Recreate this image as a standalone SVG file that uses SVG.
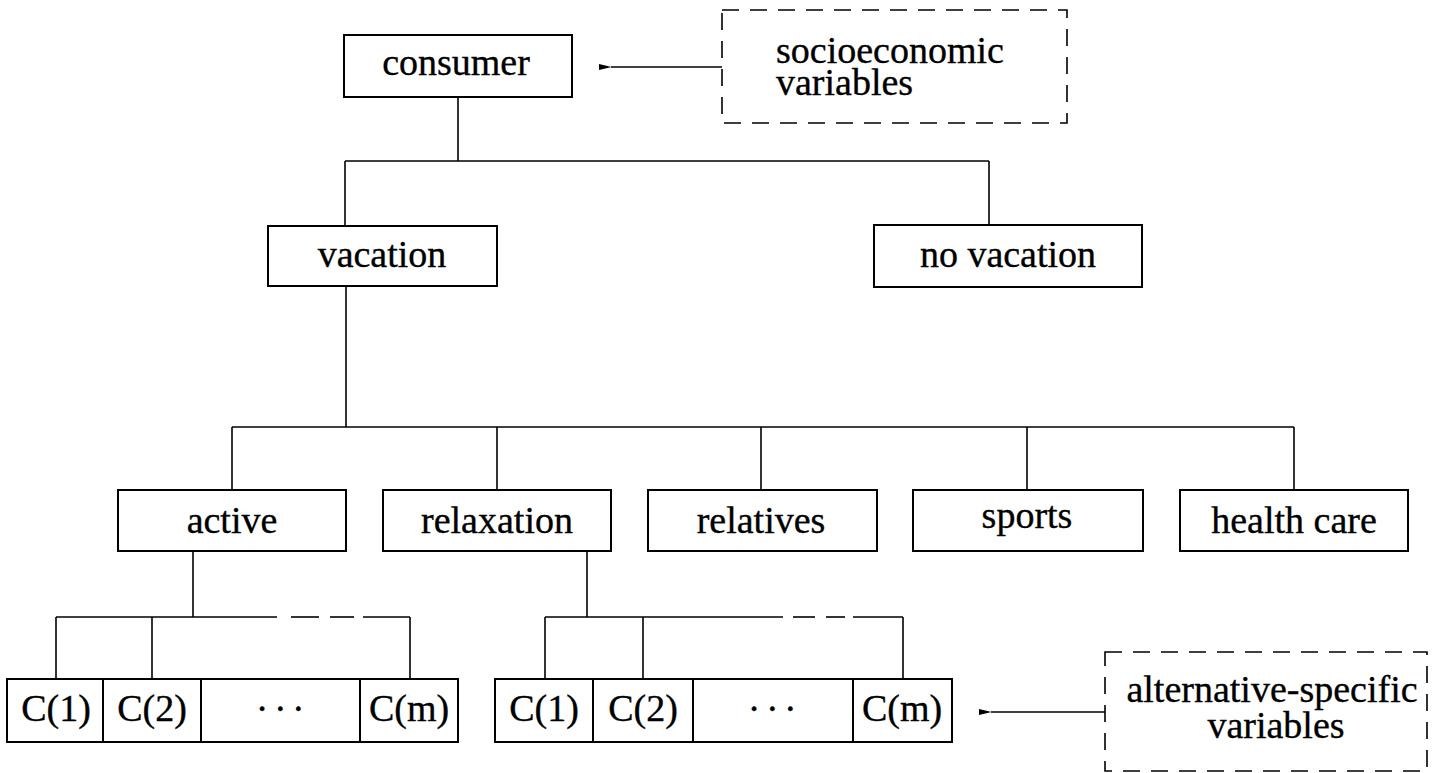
<svg xmlns="http://www.w3.org/2000/svg" width="1433" height="773" viewBox="0 0 1433 773">
<defs>
<marker id="ah" markerWidth="13" markerHeight="8" refX="0.5" refY="4" orient="auto" markerUnits="userSpaceOnUse">
<path d="M13,0.8 L0,4 L13,7.2 Z" fill="#000"/>
</marker>
</defs>
<style>
.box{fill:#fff;stroke:#000;stroke-width:2}
.dbox{fill:none;stroke:#000;stroke-width:1.6;stroke-dasharray:17 11}
.ln{fill:none;stroke:#000;stroke-width:1.6}
text{font-family:"Liberation Serif","Times New Roman",serif;font-size:38px;fill:#000;stroke:#000;stroke-width:0.35;text-anchor:middle}
.l{text-anchor:start}
</style>
<rect width="1433" height="773" fill="#fff"/>
<g id="connectors">
<line class="ln" x1="458" y1="97" x2="458" y2="161"/>
<line class="ln" x1="345" y1="161" x2="989" y2="161"/>
<line class="ln" x1="345" y1="161" x2="345" y2="226"/>
<line class="ln" x1="989" y1="161" x2="989" y2="225"/>
<line class="ln" x1="346" y1="286" x2="346" y2="427"/>
<line class="ln" x1="232" y1="427" x2="1294" y2="427"/>
<line class="ln" x1="232" y1="427" x2="232" y2="490"/>
<line class="ln" x1="497" y1="427" x2="497" y2="490"/>
<line class="ln" x1="761" y1="427" x2="761" y2="490"/>
<line class="ln" x1="1027" y1="427" x2="1027" y2="490"/>
<line class="ln" x1="1294" y1="427" x2="1294" y2="490"/>
<line class="ln" x1="193" y1="551" x2="193" y2="617"/>
<line class="ln" x1="56" y1="617" x2="277" y2="617"/>
<line class="ln" x1="291" y1="617" x2="319" y2="617"/>
<line class="ln" x1="330" y1="617" x2="354" y2="617"/>
<line class="ln" x1="363" y1="617" x2="410" y2="617"/>
<line class="ln" x1="56" y1="617" x2="56" y2="679"/>
<line class="ln" x1="152" y1="617" x2="152" y2="679"/>
<line class="ln" x1="410" y1="617" x2="410" y2="679"/>
<line class="ln" x1="587" y1="551" x2="587" y2="617"/>
<line class="ln" x1="545" y1="617" x2="783" y2="617"/>
<line class="ln" x1="793" y1="617" x2="815" y2="617"/>
<line class="ln" x1="826" y1="617" x2="845" y2="617"/>
<line class="ln" x1="853" y1="617" x2="903" y2="617"/>
<line class="ln" x1="545" y1="617" x2="545" y2="679"/>
<line class="ln" x1="643" y1="617" x2="643" y2="679"/>
<line class="ln" x1="903" y1="617" x2="903" y2="679"/>
<line class="ln" x1="722" y1="67" x2="611" y2="67" marker-end="url(#ah)"/>
<line class="ln" x1="1105" y1="712" x2="991" y2="712" marker-end="url(#ah)"/>
</g>
<g id="n-consumer"><rect class="box" x="344" y="35" width="228" height="62"/><text x="456" y="75">consumer</text></g>
<g id="n-socio"><rect class="dbox" x="722" y="10" width="345" height="113"/><text class="l" x="776" y="63">socioeconomic</text><text class="l" x="776" y="95">variables</text></g>
<g id="n-vacation"><rect class="box" x="268" y="226" width="229" height="60"/><text x="382" y="267">vacation</text></g>
<g id="n-novacation"><rect class="box" x="874" y="225" width="268" height="62"/><text x="1008" y="267">no vacation</text></g>
<g id="n-active"><rect class="box" x="118" y="490" width="228" height="61"/><text x="232" y="533">active</text></g>
<g id="n-relaxation"><rect class="box" x="383" y="490" width="228" height="61"/><text x="497" y="533">relaxation</text></g>
<g id="n-relatives"><rect class="box" x="648" y="490" width="229" height="61"/><text x="761" y="533">relatives</text></g>
<g id="n-sports"><rect class="box" x="913" y="490" width="230" height="61"/><text x="1027" y="528">sports</text></g>
<g id="n-health"><rect class="box" x="1180" y="490" width="228" height="61"/><text x="1294" y="533">health care</text></g>
<g id="n-a-c1"><rect class="box" x="7" y="679" width="96" height="63"/><text x="56" y="721">C(1)</text></g>
<g id="n-a-c2"><rect class="box" x="103" y="679" width="98" height="63"/><text x="152" y="721">C(2)</text></g>
<g id="n-a-dots"><rect class="box" x="201" y="679" width="159" height="63"/><text x="283" y="721" letter-spacing="5.5">···</text></g>
<g id="n-a-cm"><rect class="box" x="360" y="679" width="98" height="63"/><text x="409" y="721">C(m)</text></g>
<g id="n-r-c1"><rect class="box" x="495" y="679" width="98" height="63"/><text x="544" y="721">C(1)</text></g>
<g id="n-r-c2"><rect class="box" x="593" y="679" width="100" height="63"/><text x="643" y="721">C(2)</text></g>
<g id="n-r-dots"><rect class="box" x="693" y="679" width="160" height="63"/><text x="775" y="721" letter-spacing="5.5">···</text></g>
<g id="n-r-cm"><rect class="box" x="853" y="679" width="99" height="63"/><text x="902" y="721">C(m)</text></g>
<g id="n-alt"><rect class="dbox" x="1105" y="652" width="322" height="119"/><text x="1272" y="702">alternative-specific</text><text x="1276" y="738">variables</text></g>
</svg>
